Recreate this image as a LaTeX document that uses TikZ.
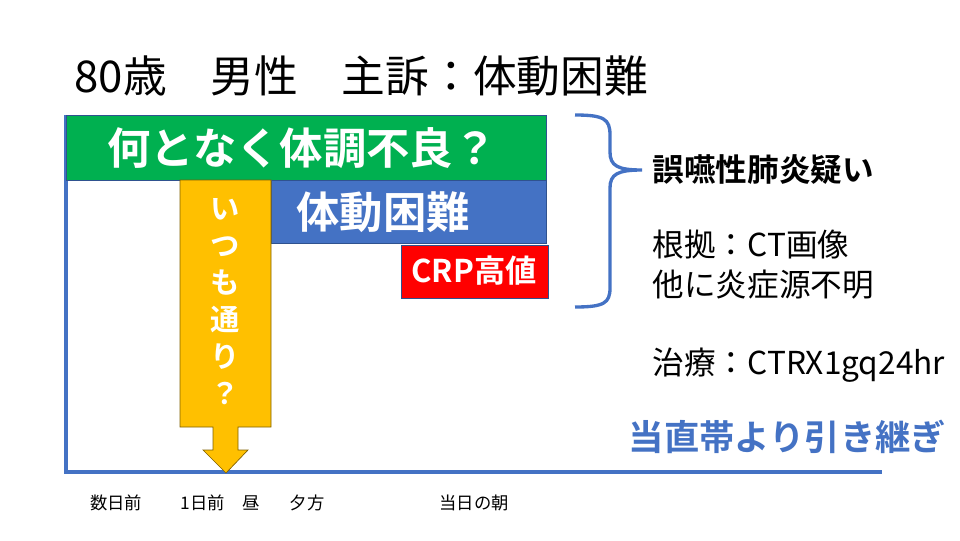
\documentclass[tikz,border=0pt]{standalone}
\usepackage{fontspec}
\setmainfont{Noto Sans CJK JP}[BoldFont={Noto Sans CJK JP Bold}]
\definecolor{ppblue}{HTML}{4472C4}
\definecolor{ppgreen}{HTML}{00B050}
\definecolor{ppred}{HTML}{FF0000}
\definecolor{ppyellow}{HTML}{FFC000}
\definecolor{boxedge}{HTML}{2F528F}
\definecolor{arrowedge}{HTML}{7F6000}
\tikzset{
  axis/.style={ppblue, line width=3pt},
  bar/.style={draw=boxedge, line width=0.5pt},
  bartext/.style={white, font=\fontsize{32.5}{38}\selectfont\bfseries},
  sidetext/.style={anchor=west, font=\fontsize{23.7}{30}\selectfont},
  timetext/.style={font=\fontsize{13}{16}\selectfont}
}
\begin{document}
\begin{tikzpicture}[x=0.75pt, y=-0.75pt]
        \useasboundingbox (0,0) rectangle (960,540);

        % title
        \node[anchor=west, font=\fontsize{32.8}{38}\selectfont] (title) at (70,76) {80歳　男性　主訴：体動困難};

        % time axis
        \draw[axis] (66,115) -- (66,472) -- (882,472);

        % bars
        \filldraw[bar, fill=ppgreen] (66,115) rectangle (546,180);
        \node[bartext] (malaise) at (302,148) {何となく体調不良？};
        \filldraw[bar, fill=ppblue] (271,180) rectangle (546,243);
        \node[bartext] (immobile) at (383,212) {体動困難};
        \filldraw[bar, fill=ppred] (401,245) rectangle (548,298);
        \node[white, font=\fontsize{23.5}{28}\selectfont\bfseries] (crp) at (474,271) {CRP高値};

        % arrow
        \filldraw[draw=arrowedge, line width=0.5pt, fill=ppyellow]
            (180,180) -- (271,180) -- (271,427) -- (238,427) -- (238,450) -- (248,450)
            -- (226,473) -- (203,450) -- (213,450) -- (213,427) -- (180,427) -- cycle;
        \node[white, align=center, font=\fontsize{22}{27.75}\selectfont\bfseries] (usual) at (225,302)
            {い\\つ\\も\\通\\り\\？};

        % brace
        \draw[ppblue, line width=2.5pt]
            (575,115) .. controls (604,115) and (610,119) .. (610,135) -- (610,152)
            .. controls (610,166) and (618,170) .. (642,170)
            .. controls (618,170) and (610,174) .. (610,188) -- (610,288)
            .. controls (610,303) and (604,307) .. (575,307);

        % assessment
        \node[sidetext, font=\fontsize{23.7}{30}\selectfont\bfseries] (dx) at (648,170) {誤嚥性肺炎疑い};
        \node[sidetext] (basis) at (648,245) {根拠：CT画像};
        \node[sidetext] (source) at (648,285) {他に炎症源不明};
        \node[sidetext] (tx) at (648,365) {治療：CTRX1gq24hr};
        \node[anchor=west, ppblue, font=\fontsize{26.5}{32}\selectfont\bfseries] (handover) at (624,437) {当直帯より引き継ぎ};

        % time labels
        \foreach \x/\t/\n in {116/数日前/days, 203/1日前/prev, 251/昼/noon, 307/夕方/eve, 474/当日の朝/morn} {
            \node[timetext] (\n) at (\x,503) {\t};
        }

    \end{tikzpicture}
\end{document}
